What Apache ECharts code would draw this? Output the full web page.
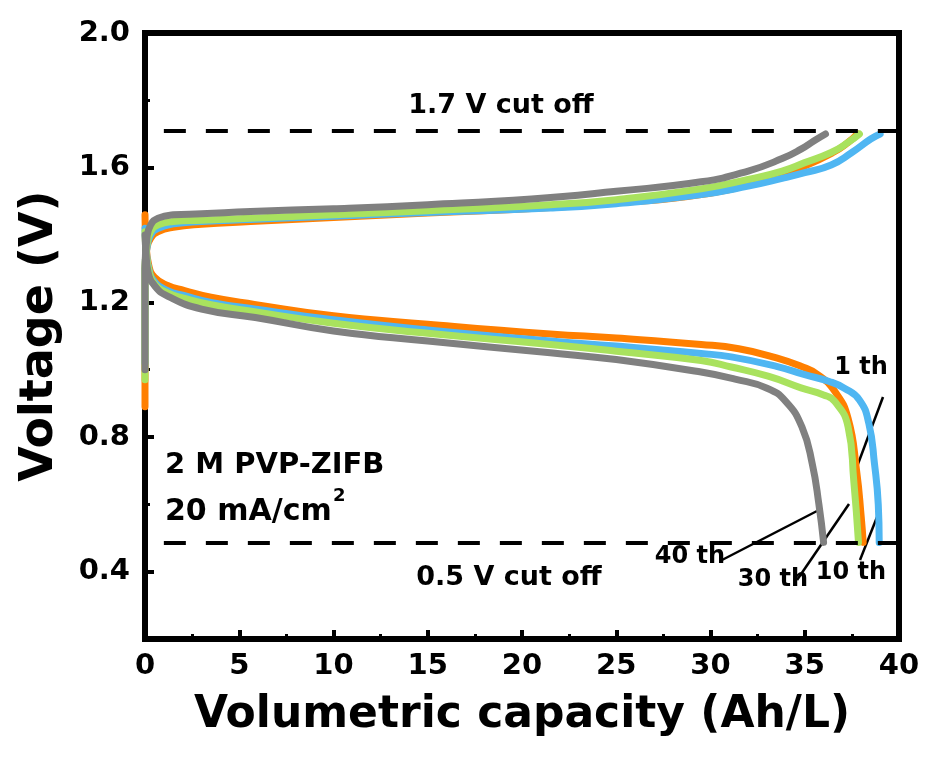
<!DOCTYPE html>
<html><head><meta charset="utf-8">
<script src="https://cdn.jsdelivr.net/npm/echarts@6/dist/echarts.min.js"></script>
<style>html,body{margin:0;padding:0;background:#fff}#c{width:925px;height:758px}</style>
</head><body><div id="c"></div>
<script>
// ---- data (capacity Ah/L, voltage V) ----
const charge1 = [[0,0.89],[0,1.30],[0.1,1.36],[0.3,1.39],[0.7,1.41],[1.5,1.423],[3,1.432],[5.6,1.44],[10,1.452],[15,1.465],[21.5,1.482],[25,1.495],[29.5,1.52],[33,1.565],[35,1.605],[36.5,1.645],[37.3,1.675],[37.8,1.70]];
const charge10 = [[0,1.02],[0,1.30],[0.1,1.36],[0.3,1.40],[0.7,1.42],[1.5,1.433],[3,1.44],[5.6,1.446],[10,1.456],[15,1.467],[21.5,1.48],[25,1.493],[29.5,1.52],[32,1.545],[33.8,1.568],[35,1.585],[36.4,1.608],[37.5,1.645],[38.5,1.685],[39.0,1.70]];
const charge30 = [[0,0.97],[0,1.30],[0.1,1.37],[0.3,1.41],[0.7,1.43],[1.5,1.44],[3,1.444],[5.6,1.45],[10,1.46],[15,1.472],[21.5,1.49],[25,1.505],[29.5,1.537],[32,1.565],[33.8,1.59],[35,1.615],[36.4,1.645],[37.3,1.675],[37.9,1.70]];
const charge40 = [[0,1.0],[0,1.30],[0.1,1.39],[0.3,1.43],[0.7,1.45],[1.5,1.46],[3,1.463],[5.6,1.47],[10,1.478],[15,1.49],[20.5,1.507],[25,1.53],[29.5,1.558],[32,1.59],[33.8,1.627],[34.8,1.655],[35.5,1.68],[36.1,1.70]];

const discharge1 = [[0,1.46],[0.05,1.38],[0.2,1.31],[0.5,1.275],[1.2,1.25],[2.1,1.235],[3.5,1.215],[5.8,1.194],[10,1.16],[15,1.135],[21.5,1.106],[25,1.094],[29.5,1.075],[31.5,1.062],[33.5,1.035],[34.8,1.01],[35.7,0.985],[36.6,0.935],[37.3,0.855],[37.75,0.70],[38.0,0.56],[38.1,0.487]];
const discharge10 = [[0,1.42],[0.05,1.37],[0.2,1.30],[0.5,1.262],[1.2,1.235],[2.1,1.22],[3.5,1.2],[5.8,1.18],[10,1.148],[15,1.118],[21.5,1.085],[25,1.07],[29.5,1.048],[31.1,1.038],[33.5,1.01],[35,0.985],[36.3,0.965],[37.1,0.945],[37.9,0.91],[38.4,0.84],[38.7,0.72],[38.9,0.6],[38.95,0.487]];
const discharge30 = [[0,1.41],[0.05,1.36],[0.2,1.295],[0.5,1.255],[1.2,1.228],[2.1,1.212],[3.5,1.193],[5.8,1.172],[10,1.138],[15,1.108],[21.5,1.075],[25,1.055],[29.5,1.027],[31.1,1.008],[33.1,0.98],[34.8,0.946],[36.0,0.925],[36.6,0.905],[37.3,0.83],[37.6,0.67],[37.85,0.487]];
const discharge40 = [[0,1.40],[0.05,1.35],[0.16,1.29],[0.53,1.248],[1.22,1.218],[3.0,1.18],[5.85,1.155],[10,1.115],[15,1.085],[21.5,1.05],[25,1.03],[29.5,0.993],[31.3,0.972],[33.0,0.945],[34.0,0.905],[34.85,0.83],[35.4,0.72],[35.75,0.60],[36.0,0.487]];

const cutoffs = [1.71, 0.487];
const yLabelValues = [0.4, 0.8, 1.2, 1.6, 2.0];
const yMinorValues = [0.6, 1.0, 1.4, 1.8];

// ---- chart ----
const FONT = 'DejaVu Sans';
const colors = {c1:'#FF7F00', c10:'#4FB6F2', c30:'#A9E25E', c40:'#808080'};
const chart = echarts.init(document.getElementById('c'), null, {renderer:'canvas'});

function line(data, color) {
  return {type:'line', data:data, smooth:0.5, symbol:'none', clip:true,
    lineStyle:{color:color, width:7, cap:'round', join:'round'}};
}
const series = [
  line(charge1, colors.c1), line(discharge1, colors.c1),
  line(charge10, colors.c10), line(discharge10, colors.c10),
  line(charge30, colors.c30), line(discharge30, colors.c30),
  line(charge40, colors.c40), line(discharge40, colors.c40),
  {type:'line', data:[], markLine:{silent:true, symbol:'none', label:{show:false},
    lineStyle:{color:'#000', width:4, type:[22,20]},
    data: cutoffs.map(v => [{coord:[1, v]}, {coord:[40, v]}])}}
];

const txt = (x, y, text, size, align) => ({type:'text', x:x, y:y, style:{text:text, fill:'#000',
  font:'bold ' + size + 'px "' + FONT + '"', textAlign:align || 'left', textVerticalAlign:'middle'}});
const seg = (x1,y1,x2,y2) => ({type:'line', shape:{x1:x1,y1:y1,x2:x2,y2:y2}, style:{stroke:'#000', lineWidth:2.5}});

chart.setOption({
  animation:false,
  backgroundColor:'#fff',
  grid:{left:145, right:26, top:33, bottom:119, show:true, borderColor:'#000', borderWidth:6},
  xAxis:{type:'value', min:0, max:40, interval:5,
    axisLine:{show:true, lineStyle:{color:'#000', width:6}},
    axisTick:{show:true, inside:true, length:9, lineStyle:{color:'#000', width:4}},
    minorTick:{show:true, splitNumber:2, length:5, lineStyle:{color:'#000', width:3}},
    splitLine:{show:false}, minorSplitLine:{show:false},
    axisLabel:{color:'#000', fontSize:29, fontWeight:'bold', fontFamily:FONT, margin:13},
    name:'Volumetric capacity (Ah/L)', nameLocation:'middle', nameGap:55,
    nameTextStyle:{color:'#000', fontSize:44, fontWeight:'bold', fontFamily:FONT}},
  yAxis:[
    {type:'value', min:0.2, max:2.0, interval:0.2,
      axisLine:{show:true, lineStyle:{color:'#000', width:6}},
      axisTick:{show:true, inside:true, length:9, customValues:yLabelValues, lineStyle:{color:'#000', width:4}},
      splitLine:{show:false},
      axisLabel:{color:'#000', fontSize:29, fontWeight:'bold', fontFamily:FONT, margin:15,
        customValues:yLabelValues, formatter:v => v.toFixed(1)},
      name:'Voltage (V)', nameLocation:'middle', nameGap:82, nameRotate:90,
      nameTextStyle:{color:'#000', fontSize:46, fontWeight:'bold', fontFamily:FONT}},
    {type:'value', min:0.2, max:2.0, interval:0.2, position:'left',
      axisLine:{show:false},
      axisTick:{show:true, inside:true, length:5, customValues:yMinorValues, lineStyle:{color:'#000', width:3}},
      axisLabel:{show:false}, splitLine:{show:false}}
  ],
  series:series,
  graphic:[
    txt(501, 106, '1.7 V cut off', 27, 'center'),
    txt(509, 578, '0.5 V cut off', 27, 'center'),
    txt(165, 465, '2 M PVP-ZIFB', 29),
    txt(165, 512, '20 mA/cm', 30),
    txt(333, 496, '2', 18),
    txt(861, 368, '1 th', 24, 'center'),
    txt(851, 573, '10 th', 24, 'center'),
    txt(773, 580, '30 th', 24, 'center'),
    txt(690, 557, '40 th', 24, 'center'),
    seg(883,397,855,472),
    seg(879,512,860,560),
    seg(849,504,797,580),
    seg(817,511,722,560)
  ]
});
</script></body></html>
